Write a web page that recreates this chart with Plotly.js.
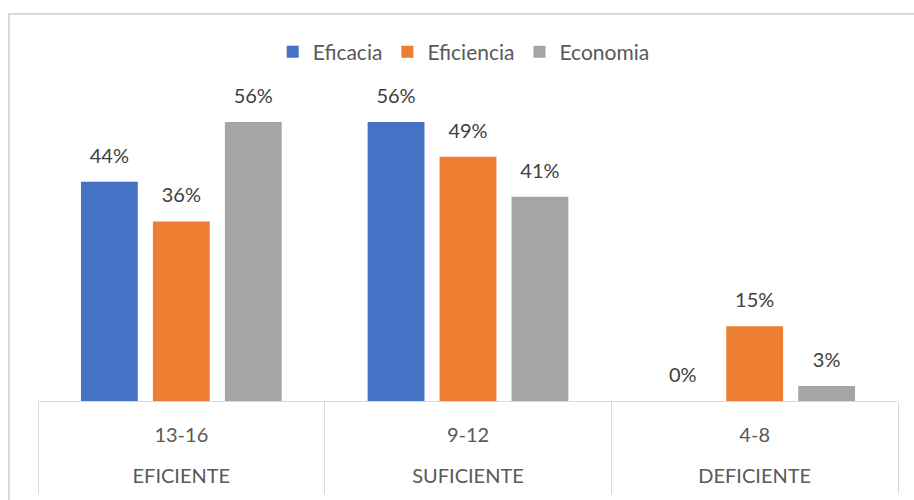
<!DOCTYPE html>
<html><head><meta charset="utf-8">
<script src="https://cdn.plot.ly/plotly-3.0.1.min.js"></script>
<style>
html,body{margin:0;padding:0;background:#fff;overflow:hidden}
#wrap{position:relative;width:914px;height:500px;overflow:hidden}
#chart{width:914px;height:500px}
#frame{position:absolute;left:8px;top:13px;width:1000px;height:1000px;border-left:2px solid #d9d9d9;border-top:2px solid #d9d9d9;pointer-events:none}
</style></head><body>
<div id="wrap"><div id="chart"></div><div id="frame"></div></div>
<script>
const levels = ["EFICIENTE", "SUFICIENTE", "DEFICIENTE"];
const ranges = ["13-16", "9-12", "4-8"];
const eficacia = [44, 56, 0];
const eficiencia = [36, 49, 15];
const economia = [56, 41, 3];
const seriesNames = ["Eficacia", "Eficiencia", "Economia"];
const seriesValues = [eficacia, eficiencia, economia];
const colors = ["#4472C4", "#ED7D31", "#A5A5A5"];

const idx = ranges.map((_, i) => i);
const traces = [];
seriesValues.forEach((vals, i) => {
  traces.push({
    type: 'bar', name: seriesNames[i], x: ranges, y: vals,
    marker: {color: colors[i], line: {width: 0}},
    hoverinfo: 'skip'
  });
});
seriesValues.forEach((vals, i) => {
  traces.push({
    type: 'scatter', mode: 'markers+text', x: ranges, y: vals,
    text: vals.map(v => v + '%'), textposition: 'top center',
    textfont: {family: 'Lato, sans-serif', size: 20, color: '#404040'},
    marker: {size: 21, opacity: 0, color: colors[i]},
    showlegend: false, hoverinfo: 'skip', cliponaxis: false
  });
});
// invisible carriers so the two label axes (range / level) are drawn
['x2', 'x3'].forEach(ax => {
  traces.push({type: 'scatter', mode: 'none', x: idx, y: eficacia, xaxis: ax, yaxis: 'y',
               showlegend: false, hoverinfo: 'skip'});
});

const labelFont = {family: 'Lato, sans-serif', size: 20, color: '#595959'};
const layout = {
  width: 914, height: 500,
  margin: {l: 38, r: 16, t: 102, b: 99},
  paper_bgcolor: '#ffffff', plot_bgcolor: '#ffffff',
  font: {family: 'Lato, sans-serif', size: 20, color: '#595959'},
  barmode: 'group', bargap: 0.247, bargroupgap: 0.21,
  scattermode: 'group', scattergap: 0.247,
  showlegend: true, hovermode: false,
  legend: {orientation: 'h', x: 0.495, xanchor: 'center', yref: 'container', y: 0.896, yanchor: 'middle',
           font: {family: 'Lato, sans-serif', size: 21, color: '#595959'}, traceorder: 'normal'},
  xaxis: {type: 'category', categoryorder: 'array', categoryarray: ranges, range: [-0.5, ranges.length - 0.5],
          showline: true, linecolor: '#d9d9d9', linewidth: 1,
          tickson: 'boundaries', ticks: 'outside', ticklen: 92, tickwidth: 1, tickcolor: '#d9d9d9',
          showticklabels: false, showgrid: false, zeroline: false, fixedrange: true},
  xaxis2: {overlaying: 'x', anchor: 'y', side: 'bottom', type: 'linear', range: [-0.5, ranges.length - 0.5],
           tickmode: 'array', tickvals: idx, ticktext: ranges, ticks: '', showline: false,
           showgrid: false, zeroline: false, ticklabelstandoff: 20, tickfont: labelFont, fixedrange: true},
  xaxis3: {overlaying: 'x', anchor: 'y', side: 'bottom', type: 'linear', range: [-0.5, levels.length - 0.5],
           tickmode: 'array', tickvals: idx, ticktext: levels, ticks: '', showline: false,
           showgrid: false, zeroline: false, ticklabelstandoff: 61, tickfont: labelFont, fixedrange: true},
  yaxis: {range: [0, 60], visible: false, fixedrange: true}
};
Plotly.newPlot('chart', traces, layout, {staticPlot: true, displayModeBar: false});
</script>
</body></html>
